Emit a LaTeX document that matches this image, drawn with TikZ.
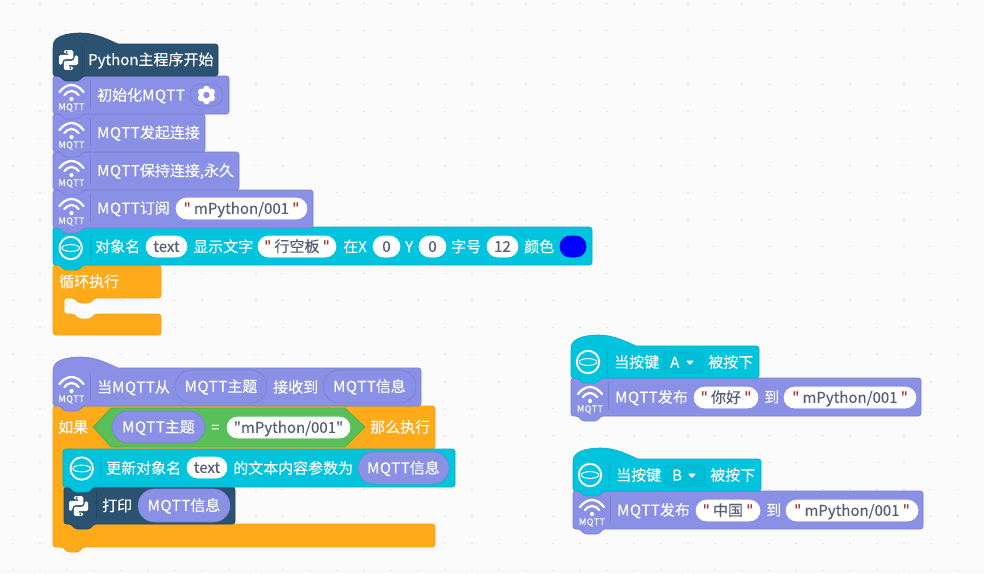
\documentclass[tikz,border=0pt]{standalone}
\usepackage{fontspec}
\newfontfamily\mainf{Noto Sans CJK SC}[FakeBold=0.12]
\newcommand{\M}{{\addfontfeature{LetterSpace=4}MQTT}}
\definecolor{bgc}{HTML}{FAFAFA}
\definecolor{dotc}{HTML}{E2E2E2}
\definecolor{purp}{HTML}{8A90E5}
\definecolor{purpe}{HTML}{7A80CE}
\definecolor{cyanb}{HTML}{00C4DE}
\definecolor{cyane}{HTML}{00B0C8}
\definecolor{ddfill}{HTML}{00BDD6}
\definecolor{darkb}{HTML}{2C5272}
\definecolor{darke}{HTML}{234560}
\definecolor{orng}{HTML}{FFAB19}
\definecolor{orne}{HTML}{F0A010}
\definecolor{grn}{HTML}{59C059}
\definecolor{grne}{HTML}{4CAD4C}
\definecolor{gtxt}{HTML}{575E75}
\definecolor{qred}{HTML}{A83232}
\newcounter{tn}
\tikzset{
  txt/.style={anchor=base west,inner sep=0pt,font=\mainf\fontsize{15}{17}\selectfont,text=white},
  ptxt/.style={anchor=base,inner sep=0pt,font=\mainf\fontsize{15}{17}\selectfont,text=gtxt},
  wtxt/.style={anchor=base,inner sep=0pt,font=\mainf\fontsize{15}{17}\selectfont,text=white},
  body/.style={rounded corners=2.5pt,line width=.6pt},
}
% block with bottom tab
\newcommand{\blk}[6]{% x1 y1 x2 y2 fill edge
  \draw[body,fill=#5,draw=#6] (#1,#2) -- (#3,#2) -- (#3,#4) -- ({#1+30},#4) -- ({#1+26},{#4+5}) -- ({#1+11},{#4+5}) -- ({#1+7},#4) -- (#1,#4) -- cycle;}
\newcommand{\hatb}[6]{% same, with a hat
  \draw[line width=.6pt,fill=#5,draw=#6,rounded corners=2.5pt] (#1,{#2+3}) [sharp corners] .. controls ({#1+1},{#2-7}) and ({#1+12},{#2-11}) .. ({#1+28},{#2-11}) .. controls ({#1+42},{#2-11}) and ({#1+54},{#2-5}) .. ({#1+65},#2) [rounded corners=2.5pt] -- (#3,#2) -- (#3,#4) -- ({#1+30},#4) -- ({#1+26},{#4+5}) -- ({#1+11},{#4+5}) -- ({#1+7},#4) -- (#1,#4) -- cycle;}
\newcommand{\sepl}[4]{\draw[#4,line width=.7pt] (#1,#2) -- (#1,#3);}
\newcommand{\tx}[3]{\stepcounter{tn}\node[txt] (t\thetn) at (#1,{#2+5.6}) {#3};}
% pill x1 x2 y1 y2 fill edge
\newcommand{\pillb}[6]{\pgfmathsetmacro\rr{(#4-#3)/2}\draw[fill=#5,draw=#6,line width=.6pt,rounded corners=\rr pt] (#1,#3) rectangle (#2,#4);}
% white value pill with centred text
\newcommand{\val}[5]{\pillb{#1}{#2}{#3}{#4}{white}{white}\stepcounter{tn}\node[ptxt] (t\thetn) at ({(#1+#2)/2},{(#3+#4)/2+5.4}) {#5};}
% purple reporter
\newcommand{\rep}[5]{\pillb{#1}{#2}{#3}{#4}{purp}{purpe}\stepcounter{tn}\node[wtxt] (t\thetn) at ({(#1+#2)/2},{(#3+#4)/2+5.4}) {#5};}
\newcommand{\qs}[1]{\textcolor{qred}{"}\hspace{3.2pt}#1\hspace{3.2pt}\textcolor{qred}{"}}
% wifi icon: cx, top of block
\newcommand{\wifi}[2]{%
  \begin{scope}[shift={(#1,#2)}]
  \fill[white] (0,23) circle (2.1);
  \draw[white,line width=2.2pt,line cap=round] (-12,16) .. controls (-5,6.7) and (5,6.7) .. (12,16);
  \draw[white,line width=2.2pt,line cap=round] (-7.2,19) .. controls (-3,13.7) and (3,13.7) .. (7.2,19);
  \stepcounter{tn}\node[inner sep=0pt,text=white,font=\mainf\fontsize{9}{10}\selectfont] (t\thetn) at (0,31.5) {M\hspace{.4pt}Q\hspace{.4pt}T\hspace{.4pt}T};
  \end{scope}}
\newcommand{\target}[2]{%
  \draw[white,line width=1.9pt] (#1,#2) circle (11.2);
  \draw[white,line width=1pt] (#1,#2) ellipse (8.8 and 3.4);}
\newcommand{\pyicon}[3]{%
  \begin{scope}[shift={(#1,#2)},scale=.95]
  \fill[white,rounded corners=1.5pt] (-5,-10.5) -- (5,-10.5) -- (5,-1) -- (-4.5,-1) -- (-6.5,1) -- (-6.5,5) -- (-10,5) -- (-10,-5.5) -- (1,-5.5) -- (1,-7) -- (-5,-7) -- cycle;
  \fill[white,rounded corners=1.5pt] (5,10.5) -- (-5,10.5) -- (-5,1) -- (4.5,1) -- (6.5,-1) -- (6.5,-5) -- (10,-5) -- (10,5.5) -- (-1,5.5) -- (-1,7) -- (5,7) -- cycle;
  \fill[#3] (-2,-8.7) circle (1.1);
  \fill[#3] (2,8.7) circle (1.1);
  \end{scope}}
\begin{document}
\begin{tikzpicture}[x=1pt,y=-1pt]
\useasboundingbox (0,0) rectangle (984,574);
\fill[bgc] (0,0) rectangle (984,574);
\foreach \i in {0,...,36} \foreach \j in {0,...,21}
  \fill[dotc] ({13+27*\i},{3.5+27*\j}) circle (.85);

% ---- first stack (lower blocks first)
\draw[body,fill=orng,draw=orne] (53,265) -- (161,265) -- (161,298) -- (95,298) -- (90,303) -- (79,303) -- (74,298) -- (64,298) -- (64,314) -- (74,314) -- (79,319) -- (90,319) -- (95,314) -- (161,314) -- (161,335) -- (53,335) -- cycle;
\tx{59}{281.5}{循环执行}

\blk{53}{227}{592}{265}{cyanb}{cyane}
\target{70.7}{248}
\sepl{90}{233}{261}{cyane}
\tx{95}{246.5}{对象名}
\val{146}{187}{236}{257}{text}
\tx{193}{246.5}{显示文字}
\val{258}{336}{236}{257}{\qs{行空板}}
\tx{343}{246.5}{在X}
\val{373}{400}{236}{257}{0}
\tx{405}{246.5}{Y}
\val{419}{446}{236}{257}{0}
\tx{451}{246.5}{字号}
\val{487}{518}{236}{257}{12}
\tx{524}{246.5}{颜色}
\draw[fill=blue,draw=blue!80!black,line width=.6pt,rounded corners=10pt] (560,236) rectangle (586,257);

\blk{53}{190}{313}{228}{purp}{purpe}
\wifi{71.5}{190}
\sepl{90.5}{194}{222}{purpe}
\tx{97}{208}{\M 订阅}
\val{176}{307}{198}{219}{\qs{mPython/001}}

\blk{53}{152}{239}{190}{purp}{purpe}
\wifi{71.5}{152}
\sepl{90.5}{156}{184}{purpe}
\tx{97}{170.5}{\M 保持连接,永久}

\blk{53}{114}{205}{152}{purp}{purpe}
\wifi{71.5}{114}
\sepl{90.5}{118}{146}{purpe}
\tx{97}{132.5}{\M 发起连接}

\blk{53}{76}{229}{114}{purp}{purpe}
\wifi{71.5}{76}
\sepl{90.5}{80}{108}{purpe}
\tx{97}{95}{初始化\M}
\pillb{190}{223}{84}{106}{purp}{purpe}
\fill[white] (206.5,95) circle (6.2);
\foreach \a in {30,90,...,330} \fill[white] (206.5,95) ++(\a:5.8) circle (3.5);
\fill[purp] (206.5,95) circle (3.2);

\hatb{53}{44}{218}{76}{darkb}{darke}
\pyicon{68.5}{60}{darkb}
\sepl{82.5}{46}{74}{darke}
\tx{88}{59.5}{Python主程序开始}

% ---- second stack
\draw[body,fill=orng,draw=orne] (53,406) -- (435,406) -- (435,449) -- (64,449) -- (64,524) -- (435,524) -- (435,547) -- (83,547) -- (79,552) -- (67,552) -- (63,547) -- (53,547) -- cycle;
\tx{58}{427}{如果}
\draw[fill=grn,draw=grne,line width=.6pt] (93,427) -- (111,408) -- (345,408) -- (365,427) -- (345,447) -- (111,447) -- cycle;
\rep{112}{205}{411}{443}{\M 主题}
\tx{211}{427}{=}
\val{227}{350}{417}{438}{"mPython/001"}
\tx{370}{427}{那么执行}

\blk{64}{487}{235}{524}{darkb}{darke}
\pyicon{78.5}{506}{darkb}
\sepl{96.7}{491}{519}{darke}
\tx{102}{505.5}{打印}
\rep{138}{230}{489}{522}{\M 信息}

\blk{63}{449}{455}{487}{cyanb}{cyane}
\target{81.7}{468.5}
\sepl{100.7}{453}{481}{cyane}
\tx{106}{468}{更新对象名}
\val{187}{227}{457}{478}{text}
\tx{233}{468}{的文本内容参数为}
\rep{358}{449}{452}{484}{\M 信息}

\hatb{53}{368}{421}{406}{purp}{purpe}
\wifi{71.5}{368}
\sepl{90.5}{373}{400}{purpe}
\tx{97}{387}{当\M 从}
\rep{175}{267}{370}{403}{\M 主题}
\tx{273}{387}{接收到}
\rep{323}{416}{370}{403}{\M 信息}

% ---- right groups
\foreach \dx/\dy/\key/\msg in {0/0/A/你好,2/113/B/中国}{
  \begin{scope}[shift={(\dx,\dy)}]
  \blk{571}{378}{921}{416}{purp}{purpe}
  \wifi{590}{378}
  \sepl{608.5}{382}{410}{purpe}
  \tx{615}{397}{\M 发布}
  \val{694}{758}{387}{408}{\qs{\msg}}
  \tx{764}{397}{到}
  \val{784}{916}{387}{408}{\qs{mPython/001}}
  \hatb{571}{346}{759}{378}{cyanb}{cyane}
  \target{588}{362}
  \sepl{607.5}{348}{375}{cyane}
  \tx{614}{362}{当按键}
  \draw[fill=ddfill,draw=cyane,line width=.7pt,rounded corners=3pt] (663,352) rectangle (703,373);
  \stepcounter{tn}\node[txt] (t\thetn) at (670,367.6) {\key};
  \fill[white,rounded corners=.5pt] (686,360.5) -- (694,360.5) -- (690,365) -- cycle;
  \tx{708}{362}{被按下}
  \end{scope}
}
\end{tikzpicture}
\end{document}
